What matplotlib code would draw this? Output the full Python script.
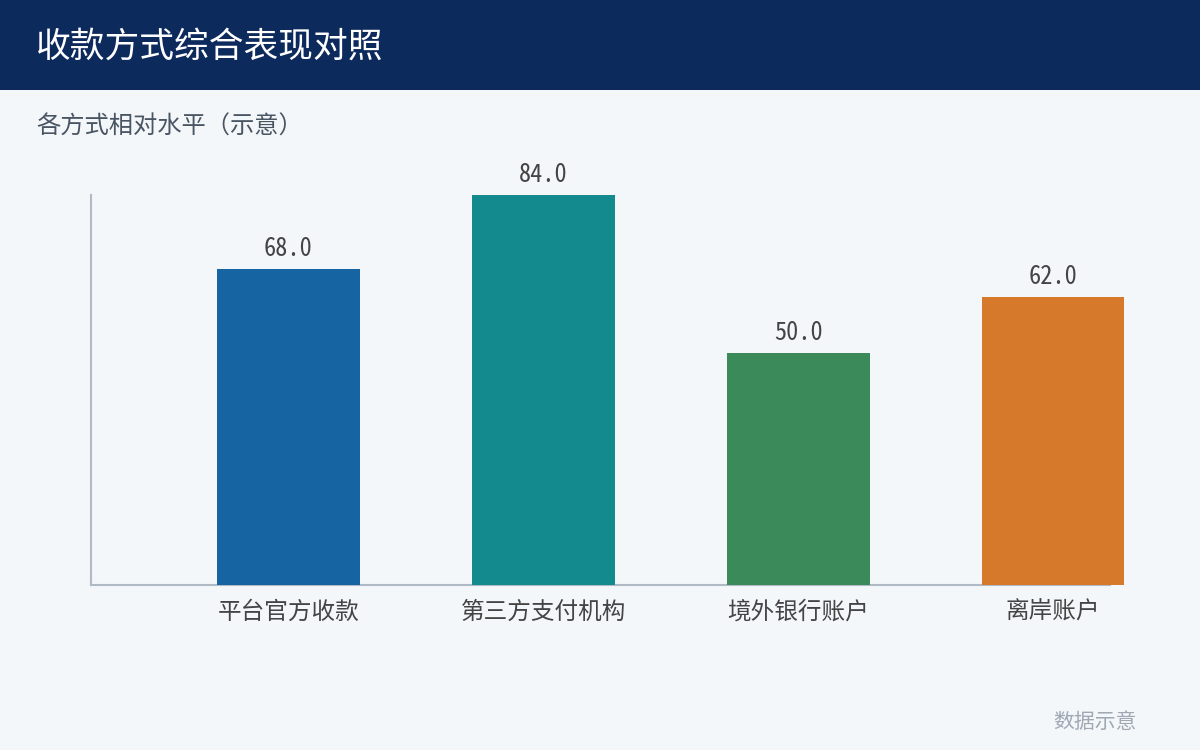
import matplotlib
matplotlib.use("Agg")
import matplotlib.pyplot as plt

plt.rcParams['font.family'] = ['Noto Sans CJK SC', 'DejaVu Sans']

# 数据
categories = ['平台官方收款', '第三方支付机构', '境外银行账户', '离岸账户']
values = [68.0, 84.0, 50.0, 62.0]
colors = ['#1764a3', '#138b8e', '#3a8a5a', '#d7792a']

title = '收款方式综合表现对照'
subtitle = '各方式相对水平（示意）'
footer = '数据示意'

bg = '#f4f7fa'

fig = plt.figure(figsize=(12, 7.5), dpi=100, facecolor=bg)

# 顶部标题栏
fig.patches.append(plt.Rectangle((0, 1 - 90 / 750), 1, 90 / 750, transform=fig.transFigure,
                                 facecolor='#0d2a5c', edgecolor='none', zorder=0))
fig.text(36 / 1200, 1 - 47 / 750, title, color='white', fontsize=25, va='center', ha='left')
fig.text(36 / 1200, 1 - 127 / 750, subtitle, color='#4a5563', fontsize=17.5, va='center', ha='left')
fig.text(1137 / 1200, 1 - 722 / 750, footer, color='#a0a8b4', fontsize=15, va='center', ha='right')

ax = fig.add_axes([91 / 1200, 1 - 585 / 750, (1110 - 91) / 1200, 390 / 750])
ax.set_facecolor(bg)

x = range(len(categories))
bars = ax.bar(x, values, width=0.56, color=colors, zorder=3, clip_on=False)

for b, v in zip(bars, values):
    ax.annotate(f'{v:.1f}', (b.get_x() + b.get_width() / 2, v), xytext=(0, 6),
                textcoords='offset points', ha='center', va='bottom',
                fontsize=17.5, color='#444444',
                family=['Noto Sans Mono CJK SC', 'DejaVu Sans Mono'])

ax.set_xlim(-0.7745, 3.2235)
ax.set_ylim(0, 84)
ax.set_xticks(list(x))
ax.set_xticklabels(categories, fontsize=17, color='#444444')
ax.tick_params(axis='x', length=0, pad=11)
ax.set_yticks([])

for s in ['top', 'right']:
    ax.spines[s].set_visible(False)
for s in ['left', 'bottom']:
    ax.spines[s].set_color('#b0bac6')
    ax.spines[s].set_linewidth(1.5)

fig.savefig('out.png', dpi=100, facecolor=bg)
